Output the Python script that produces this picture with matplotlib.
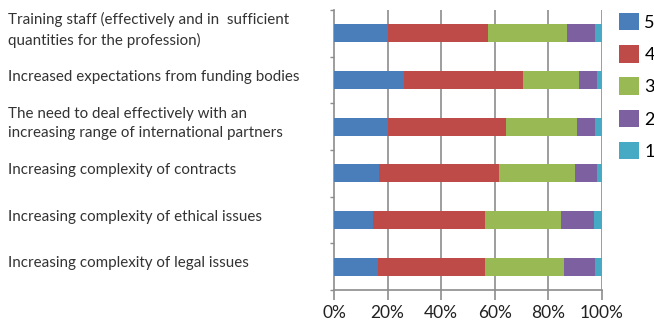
import numpy as np
import matplotlib.pyplot as plt
import matplotlib.transforms as mtransforms
from matplotlib.patches import Patch
from matplotlib.ticker import FixedLocator

plt.rcParams["font.family"] = ["Lato", "DejaVu Sans"]

# Challenges, rated 5 (most important) to 1, share of respondents in %
challenges = [
    "Training staff (effectively and in  sufficient\nquantities for the profession)",
    "Increased expectations from funding bodies",
    "The need to deal effectively with an\nincreasing range of international partners",
    "Increasing complexity of contracts",
    "Increasing complexity of ethical issues",
    "Increasing complexity of legal issues",
]
ratings = ["5", "4", "3", "2", "1"]
score_5 = [20.0, 26.2, 20.0, 16.8, 14.7, 16.5]
score_4 = [37.6, 44.4, 44.0, 44.8, 41.5, 39.7]
score_3 = [29.4, 20.9, 26.8, 28.3, 28.4, 29.5]
score_2 = [10.5, 6.5, 6.7, 8.1, 12.4, 11.8]
score_1 = [2.5, 2.0, 2.5, 2.0, 3.0, 2.5]
x_ticks = [0, 20, 40, 60, 80, 100]
x_tick_labels = ["0%", "20%", "40%", "60%", "80%", "100%"]

colors = ["#4a7ebb", "#be4b48", "#98b954", "#7d60a0", "#46aac5"]
GRID = "#8c8c8c"

fig = plt.figure(figsize=(6.54, 3.22), dpi=100)
ax = fig.add_axes([334 / 654, 32 / 322, 268 / 654, 280 / 322])

y = np.arange(len(challenges))
left = np.zeros(len(challenges))
for series, color in zip([score_5, score_4, score_3, score_2, score_1], colors):
    ax.barh(y, series, left=left, height=0.39, color=color, zorder=3)
    left += np.array(series)

ax.set_xlim(0, 100)
ax.set_ylim(len(challenges) - 0.5, -0.5)

# vertical gridlines run down past the bottom axis as tick marks
ax.set_xticks(x_ticks)
ax.set_xticklabels(x_tick_labels, fontsize=12.5, color="#222222")
ax.tick_params(axis="x", length=7, width=1.2, color=GRID, pad=4)
for xv in x_ticks[1:]:
    ax.axvline(xv, color=GRID, linewidth=1.2, zorder=1)

# category boundaries marked with small ticks on the left axis
ax.set_yticks([])
ax.yaxis.set_minor_locator(FixedLocator(np.arange(-0.5, len(challenges), 1.0)))
ax.tick_params(axis="y", which="minor", length=3, width=1, color=GRID)

for side in ["top", "right"]:
    ax.spines[side].set_visible(False)
for side in ["left", "bottom"]:
    ax.spines[side].set_color(GRID)
    ax.spines[side].set_linewidth(1.2)

# category labels, left aligned at the figure edge
trans = mtransforms.blended_transform_factory(fig.transFigure, ax.transData)
for yi, label in zip(y, challenges):
    ax.text(8 / 654, yi - 0.07, label, transform=trans, ha="left", va="center",
            fontsize=10.9, color="#333333", linespacing=1.5)

handles = [Patch(facecolor=c, edgecolor="none") for c in colors]
fig.legend(handles, ratings, loc="upper left", bbox_to_anchor=(619 / 654, 1 - 13 / 322),
           frameon=False, fontsize=13, handlelength=1.1, handleheight=1.1,
           labelspacing=0.8, handletextpad=0.3, borderaxespad=0, borderpad=0)

fig.savefig("out.png", dpi=100)
